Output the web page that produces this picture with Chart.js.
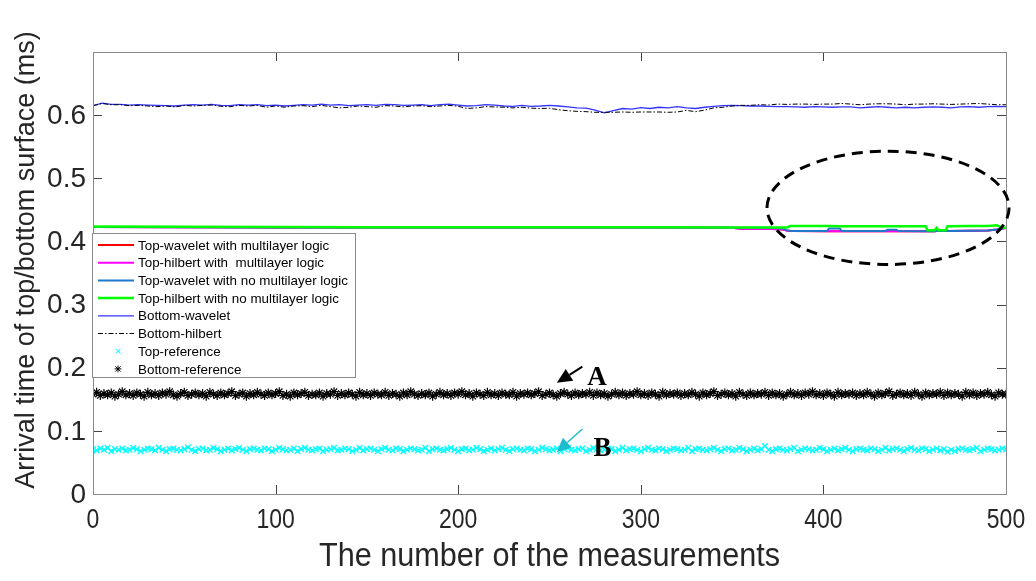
<!DOCTYPE html>
<html>
<head>
<meta charset="utf-8">
<script src="https://cdn.jsdelivr.net/npm/chart.js@4"></script>
<style>
  body { margin: 0; background: #fff; }
  canvas { display: block; }
</style>
</head>
<body>
<canvas id="arrivalChart" width="1036" height="581"></canvas>
<script>
// tick values
const measurementTicks = [0, 100, 200, 300, 400, 500];
const timeTicks = [0, 0.1, 0.2, 0.3, 0.4, 0.5, 0.6];

// top surface picks (ms), sampled at the measurement numbers in topX
const topX = [0, 50, 100, 150, 200, 250, 300, 350, 355, 372, 378, 380, 382, 383, 402, 403, 409, 410,
  434, 435, 440, 441, 456, 457, 461, 462, 463, 467, 468, 480, 490, 495, 498, 500];
const topWaveletML = [0.4230, 0.4226, 0.4220, 0.4219, 0.4220, 0.4221, 0.4220, 0.4216, 0.4200, 0.4198, 0.4190, 0.4172,
  0.4166, 0.4165, 0.4162, 0.4162, 0.4162, 0.4163, 0.4162, 0.4162, 0.4162, 0.4163, 0.4163, 0.4163,
  0.4163, 0.4164, 0.4164, 0.4164, 0.4165, 0.4168, 0.4175, 0.4190, 0.4205, 0.4212];
const topHilbertML = [0.4230, 0.4226, 0.4220, 0.4219, 0.4220, 0.4221, 0.4220, 0.4215, 0.4196, 0.4196, 0.4190, 0.4172,
  0.4166, 0.4165, 0.4160, 0.4160, 0.4160, 0.4163, 0.4160, 0.4160, 0.4160, 0.4162, 0.4163, 0.4163,
  0.4163, 0.4164, 0.4164, 0.4164, 0.4165, 0.4168, 0.4175, 0.4190, 0.4205, 0.4212];
const topWaveletNoML = [0.4230, 0.4226, 0.4220, 0.4219, 0.4220, 0.4221, 0.4220, 0.4219, 0.4218, 0.4216, 0.4205, 0.4175,
  0.4168, 0.4166, 0.4165, 0.4205, 0.4205, 0.4166, 0.4165, 0.4185, 0.4185, 0.4164, 0.4163, 0.4163,
  0.4163, 0.4164, 0.4164, 0.4164, 0.4165, 0.4168, 0.4175, 0.4190, 0.4205, 0.4212];
const topHilbertNoML = [0.4235, 0.4232, 0.4228, 0.4226, 0.4225, 0.4224, 0.4223, 0.4222, 0.4222, 0.4222, 0.4222, 0.4222,
  0.4243, 0.4245, 0.4243, 0.4243, 0.4242, 0.4242, 0.4241, 0.4241, 0.4240, 0.4240, 0.4240, 0.4178,
  0.4178, 0.4215, 0.4178, 0.4178, 0.4242, 0.4243, 0.4246, 0.4255, 0.4215, 0.4215];

// bottom surface picks (ms), every 5th measurement
const bottomX = [];
for (let m = 0; m <= 500; m += 5) bottomX.push(m);
const bottomWavelet = [
  0.615, 0.619, 0.617, 0.617, 0.616, 0.6165, 0.616, 0.6155, 0.615, 0.6145,
  0.616, 0.6165, 0.616, 0.617, 0.6155, 0.615, 0.6165, 0.616, 0.6165, 0.615,
  0.616, 0.6145, 0.6155, 0.6165, 0.616, 0.6175, 0.616, 0.6165, 0.615, 0.616,
  0.6165, 0.6155, 0.617, 0.6165, 0.6155, 0.616, 0.6165, 0.615, 0.6165, 0.6175,
  0.616, 0.6145, 0.615, 0.6165, 0.616, 0.6145, 0.614, 0.6155, 0.614, 0.6145,
  0.6155, 0.6145, 0.613, 0.6115, 0.611, 0.608, 0.6035, 0.607, 0.6105, 0.6095,
  0.612, 0.6105, 0.6125, 0.6115, 0.6135, 0.6115, 0.6105, 0.6125, 0.614, 0.615,
  0.6155, 0.615, 0.6145, 0.6145, 0.614, 0.6135, 0.6135, 0.613, 0.6125, 0.6135,
  0.613, 0.6125, 0.613, 0.613, 0.6115, 0.6125, 0.6135, 0.6125, 0.6115, 0.6125,
  0.6115, 0.6125, 0.613, 0.6125, 0.6115, 0.613, 0.6135, 0.6125, 0.6135, 0.614,
  0.6135
];
const bottomHilbert = [
  0.615, 0.6185, 0.6165, 0.6165, 0.615, 0.6155, 0.6145, 0.6135, 0.6145, 0.613,
  0.6155, 0.6145, 0.6155, 0.616, 0.614, 0.6135, 0.6155, 0.6145, 0.6155, 0.6125,
  0.6145, 0.6125, 0.6145, 0.615, 0.6135, 0.6155, 0.6135, 0.6115, 0.6125, 0.6145,
  0.6135, 0.6125, 0.615, 0.6145, 0.613, 0.6145, 0.615, 0.6135, 0.6145, 0.6155,
  0.614, 0.6105, 0.6115, 0.6135, 0.613, 0.6125, 0.6115, 0.6125, 0.611, 0.6105,
  0.611, 0.6085, 0.607, 0.606, 0.6055, 0.6045, 0.6045, 0.6045, 0.605, 0.6045,
  0.605, 0.605, 0.605, 0.6045, 0.605, 0.6075, 0.6055, 0.608, 0.6115, 0.6125,
  0.6145, 0.6155, 0.6155, 0.6165, 0.616, 0.6175, 0.617, 0.6175, 0.6175, 0.617,
  0.6175, 0.6175, 0.6185, 0.6175, 0.6165, 0.6175, 0.618, 0.618, 0.6175, 0.6165,
  0.6175, 0.6175, 0.618, 0.6175, 0.617, 0.6175, 0.618, 0.6185, 0.6175, 0.6165,
  0.6165
];

// reference picks (ms), every 2nd measurement
const refX = [];
for (let m = 0; m <= 500; m += 2) refX.push(m);
const topReference = [
  0.071,0.069,0.072,0.070,0.073,0.068,0.071,0.070,0.072,0.069,
  0.070,0.073,0.071,0.068,0.070,0.072,0.071,0.069,0.073,0.070,
  0.068,0.071,0.072,0.070,0.069,0.071,0.074,0.070,0.068,0.071,
  0.072,0.069,0.070,0.073,0.071,0.068,0.070,0.072,0.069,0.071,
  0.073,0.070,0.068,0.071,0.072,0.070,0.069,0.072,0.071,0.068,
  0.070,0.073,0.071,0.069,0.070,0.072,0.068,0.071,0.073,0.070,
  0.069,0.071,0.072,0.068,0.070,0.071,0.073,0.069,0.070,0.072,
  0.071,0.068,0.070,0.073,0.069,0.071,0.072,0.070,0.068,0.071,
  0.073,0.070,0.069,0.072,0.071,0.068,0.070,0.072,0.071,0.069,
  0.070,0.073,0.068,0.071,0.072,0.070,0.069,0.071,0.073,0.070,
  0.068,0.071,0.072,0.069,0.070,0.073,0.071,0.068,0.070,0.072,
  0.069,0.071,0.073,0.070,0.068,0.071,0.072,0.070,0.069,0.072,
  0.071,0.068,0.070,0.073,0.071,0.069,0.070,0.072,0.068,0.071,
  0.073,0.070,0.069,0.071,0.072,0.068,0.070,0.073,0.071,0.069,
  0.070,0.072,0.071,0.068,0.070,0.073,0.069,0.071,0.072,0.070,
  0.068,0.071,0.073,0.070,0.069,0.072,0.071,0.068,0.070,0.072,
  0.071,0.069,0.070,0.073,0.068,0.071,0.072,0.070,0.069,0.071,
  0.073,0.070,0.068,0.071,0.072,0.069,0.070,0.073,0.071,0.068,
  0.070,0.072,0.069,0.071,0.076,0.070,0.068,0.071,0.072,0.070,
  0.069,0.071,0.073,0.068,0.070,0.072,0.071,0.069,0.070,0.073,
  0.071,0.068,0.070,0.072,0.069,0.071,0.073,0.070,0.068,0.071,
  0.072,0.070,0.069,0.072,0.071,0.068,0.070,0.073,0.069,0.071,
  0.072,0.070,0.068,0.071,0.073,0.070,0.069,0.072,0.071,0.068,
  0.070,0.072,0.069,0.071,0.067,0.070,0.068,0.071,0.072,0.070,
  0.069,0.071,0.073,0.068,0.070,0.072,0.071,0.069,0.070,0.072,
  0.071
];
const bottomReference = [
  0.158,0.161,0.156,0.159,0.157,0.160,0.155,0.158,0.162,0.157,
  0.159,0.156,0.160,0.158,0.155,0.161,0.157,0.159,0.156,0.160,
  0.158,0.162,0.157,0.155,0.159,0.161,0.156,0.158,0.160,0.157,
  0.159,0.155,0.161,0.158,0.156,0.160,0.157,0.159,0.162,0.156,
  0.158,0.160,0.155,0.159,0.157,0.161,0.158,0.156,0.160,0.157,
  0.159,0.162,0.156,0.158,0.155,0.160,0.157,0.159,0.161,0.156,
  0.158,0.157,0.160,0.155,0.159,0.158,0.162,0.156,0.159,0.157,
  0.160,0.158,0.155,0.161,0.157,0.159,0.156,0.160,0.158,0.157,
  0.161,0.156,0.159,0.158,0.155,0.160,0.157,0.162,0.158,0.156,
  0.159,0.157,0.160,0.155,0.158,0.161,0.157,0.159,0.156,0.160,
  0.158,0.162,0.157,0.159,0.155,0.160,0.158,0.156,0.161,0.157,
  0.159,0.156,0.160,0.158,0.157,0.161,0.155,0.159,0.158,0.160,
  0.157,0.159,0.162,0.156,0.158,0.160,0.157,0.155,0.159,0.161,
  0.158,0.156,0.160,0.157,0.159,0.158,0.161,0.156,0.160,0.157,
  0.159,0.155,0.158,0.161,0.157,0.160,0.156,0.159,0.158,0.162,
  0.157,0.159,0.156,0.160,0.158,0.155,0.161,0.157,0.159,0.158,
  0.160,0.156,0.159,0.157,0.161,0.158,0.155,0.160,0.157,0.159,
  0.162,0.156,0.158,0.160,0.157,0.159,0.155,0.161,0.158,0.156,
  0.160,0.157,0.159,0.158,0.161,0.156,0.160,0.157,0.159,0.155,
  0.158,0.161,0.157,0.159,0.156,0.160,0.158,0.162,0.157,0.159,
  0.156,0.160,0.158,0.155,0.161,0.157,0.159,0.158,0.160,0.156,
  0.159,0.157,0.161,0.158,0.155,0.160,0.157,0.159,0.162,0.156,
  0.158,0.160,0.157,0.159,0.156,0.161,0.158,0.155,0.160,0.157,
  0.159,0.158,0.161,0.156,0.160,0.157,0.159,0.158,0.155,0.161,
  0.157,0.160,0.156,0.159,0.158,0.161,0.157,0.155,0.160,0.158,
  0.158
];

function pairs(xs, ys) {
  return xs.map((x, i) => ({ x: x, y: ys[i] }));
}

const textColor = '#262626';
const sansFont = '"Liberation Sans", Arial, Helvetica, sans-serif';

function drawMarker(ctx, style, x, y, r) {
  ctx.beginPath();
  ctx.moveTo(x - r, y - r); ctx.lineTo(x + r, y + r);
  ctx.moveTo(x - r, y + r); ctx.lineTo(x + r, y - r);
  if (style === 'star') {
    ctx.moveTo(x - r * 1.3, y); ctx.lineTo(x + r * 1.3, y);
    ctx.moveTo(x, y - r * 1.3); ctx.lineTo(x, y + r * 1.3);
  }
  ctx.stroke();
}

function drawArrow(ctx, x0, y0, x1, y1, color, width, headLen, headHalf) {
  const ang = Math.atan2(y1 - y0, x1 - x0);
  const bx = x1 - headLen * Math.cos(ang), by = y1 - headLen * Math.sin(ang);
  ctx.strokeStyle = color;
  ctx.fillStyle = color;
  ctx.lineWidth = width;
  ctx.beginPath();
  ctx.moveTo(x0, y0);
  ctx.lineTo(bx, by);
  ctx.stroke();
  ctx.beginPath();
  ctx.moveTo(x1, y1);
  ctx.lineTo(bx + headHalf * Math.sin(ang), by - headHalf * Math.cos(ang));
  ctx.lineTo(bx - headHalf * Math.sin(ang), by + headHalf * Math.cos(ang));
  ctx.closePath();
  ctx.fill();
}

// box, inward ticks, tick labels and axis titles
const axesBox = {
  id: 'axesBox',
  afterDatasetsDraw(chart) {
    const { ctx, chartArea: a, scales: { x, y } } = chart;
    ctx.save();
    ctx.strokeStyle = '#444';
    ctx.lineWidth = 1;
    ctx.beginPath();
    measurementTicks.forEach(v => {
      const px = Math.round(x.getPixelForValue(v)) + 0.5;
      ctx.moveTo(px, a.bottom); ctx.lineTo(px, a.bottom - 9);
      ctx.moveTo(px, a.top); ctx.lineTo(px, a.top + 9);
    });
    timeTicks.forEach(v => {
      const py = Math.round(y.getPixelForValue(v)) + 0.5;
      ctx.moveTo(a.left, py); ctx.lineTo(a.left + 9, py);
      ctx.moveTo(a.right, py); ctx.lineTo(a.right - 9, py);
    });
    ctx.stroke();
    ctx.strokeStyle = '#8a8a8a';
    ctx.strokeRect(Math.round(a.left) + 0.5, Math.round(a.top) + 0.5,
      Math.round(a.right - a.left), Math.round(a.bottom - a.top));

    ctx.fillStyle = textColor;
    ctx.font = '28px ' + sansFont;
    ctx.textAlign = 'right';
    ctx.textBaseline = 'middle';
    timeTicks.forEach(v => {
      ctx.fillText(String(v), a.left - 7, y.getPixelForValue(v) + 1);
    });
    ctx.textAlign = 'center';
    measurementTicks.forEach(v => {
      ctx.save();
      ctx.translate(x.getPixelForValue(v), a.bottom + 26);
      ctx.scale(0.82, 1);
      ctx.fillText(String(v), 0, 0);
      ctx.restore();
    });

    ctx.save();
    ctx.font = '34px ' + sansFont;
    ctx.translate((a.left + a.right) / 2, a.bottom + 63);
    ctx.scale(0.9, 1);
    ctx.fillText('The number of the measurements', 0, 0);
    ctx.restore();

    ctx.save();
    ctx.font = '27px ' + sansFont;
    ctx.translate(27, 260);
    ctx.rotate(-Math.PI / 2);
    ctx.fillText('Arrival time of top/bottom surface (ms)', 0, 0);
    ctx.restore();
    ctx.restore();
  }
};

// legend box, highlight ellipse and the A / B arrows
const annotations = {
  id: 'annotations',
  afterDraw(chart) {
    const { ctx, scales: { x, y } } = chart;
    ctx.save();

    // dashed ellipse round the right end of the top picks
    const cx = x.getPixelForValue(435.4), cy = y.getPixelForValue(0.4532);
    const rx = x.getPixelForValue(435.4 + 66.3) - cx;
    const ry = cy - y.getPixelForValue(0.4532 + 0.0897);
    ctx.strokeStyle = '#000';
    ctx.lineWidth = 3;
    ctx.setLineDash([11, 7]);
    ctx.beginPath();
    ctx.ellipse(cx, cy, rx, ry, 0, 0, Math.PI * 2);
    ctx.stroke();
    ctx.setLineDash([]);

    // arrows
    drawArrow(ctx, x.getPixelForValue(268), y.getPixelForValue(0.2016),
      x.getPixelForValue(254), y.getPixelForValue(0.176), '#000', 2, 15, 7);
    drawArrow(ctx, x.getPixelForValue(268), y.getPixelForValue(0.103),
      x.getPixelForValue(254), y.getPixelForValue(0.0667), '#1cbccc', 1.5, 14, 6.5);
    ctx.fillStyle = '#000';
    ctx.font = 'bold 27px "Liberation Serif", "Times New Roman", serif';
    ctx.textAlign = 'center';
    ctx.textBaseline = 'middle';
    ctx.fillText('A', x.getPixelForValue(276), y.getPixelForValue(0.184));
    ctx.fillText('B', x.getPixelForValue(279), y.getPixelForValue(0.071));

    // legend
    const lx = 92.5, ly = 233.5, lw = 263, lh = 144;
    ctx.fillStyle = '#fff';
    ctx.fillRect(lx, ly, lw, lh);
    ctx.strokeStyle = '#8a8a8a';
    ctx.lineWidth = 1;
    ctx.strokeRect(lx, ly, lw, lh);
    ctx.font = '13.4px ' + sansFont;
    ctx.textAlign = 'left';
    chart.data.datasets.forEach((ds, i) => {
      const ey = 245 + i * 17.7;
      if (ds.showLine === false) {
        ctx.strokeStyle = ds.borderColor;
        ctx.lineWidth = 1;
        drawMarker(ctx, ds.pointStyle === 'star' ? 'star' : 'x', 118, ey, 2.6);
      } else {
        ctx.strokeStyle = ds.borderColor;
        ctx.lineWidth = ds.borderWidth;
        ctx.setLineDash(ds.borderDash || []);
        ctx.beginPath();
        ctx.moveTo(98, ey);
        ctx.lineTo(134, ey);
        ctx.stroke();
        ctx.setLineDash([]);
      }
      ctx.fillStyle = '#000';
      ctx.fillText(ds.label, 138, ey + 1);
    });
    ctx.restore();
  }
};

const canvas = document.getElementById('arrivalChart');
new Chart(canvas, {
  type: 'line',
  data: {
    datasets: [
      { label: 'Top-wavelet with multilayer logic', data: pairs(topX, topWaveletML),
        borderColor: '#ff0000', borderWidth: 2, pointRadius: 0, order: 8 },
      { label: 'Top-hilbert with  multilayer logic', data: pairs(topX, topHilbertML),
        borderColor: '#ff00ff', borderWidth: 2, pointRadius: 0, order: 7 },
      { label: 'Top-wavelet with no multilayer logic', data: pairs(topX, topWaveletNoML),
        borderColor: '#1f78c8', borderWidth: 2, pointRadius: 0, order: 6 },
      { label: 'Top-hilbert with no multilayer logic', data: pairs(topX, topHilbertNoML),
        borderColor: '#00ff00', borderWidth: 2.5, pointRadius: 0, order: 5 },
      { label: 'Bottom-wavelet', data: pairs(bottomX, bottomWavelet),
        borderColor: '#3434ff', borderWidth: 1.3, pointRadius: 0, order: 4 },
      { label: 'Bottom-hilbert', data: pairs(bottomX, bottomHilbert),
        borderColor: '#000000', borderWidth: 1, borderDash: [5, 2, 1.5, 2], pointRadius: 0, order: 3 },
      { label: 'Top-reference', data: pairs(refX, topReference), showLine: false,
        pointStyle: 'crossRot', pointRadius: 4, borderColor: '#00ffff', backgroundColor: '#00ffff',
        pointBorderWidth: 1.4, order: 2 },
      { label: 'Bottom-reference', data: pairs(refX, bottomReference), showLine: false,
        pointStyle: 'star', pointRadius: 4.5, borderColor: '#000000', backgroundColor: '#000000',
        pointBorderWidth: 1.2, order: 1 }
    ]
  },
  options: {
    responsive: false,
    animation: false,
    devicePixelRatio: 1,
    layout: { padding: { left: 93, top: 52, right: 30, bottom: 87 } },
    scales: {
      x: { type: 'linear', min: 0, max: 500, display: false },
      y: { min: 0, max: 0.7, display: false }
    },
    elements: { line: { tension: 0 } },
    plugins: { legend: { display: false }, tooltip: { enabled: false } }
  },
  plugins: [axesBox, annotations]
});
</script>
</body>
</html>
